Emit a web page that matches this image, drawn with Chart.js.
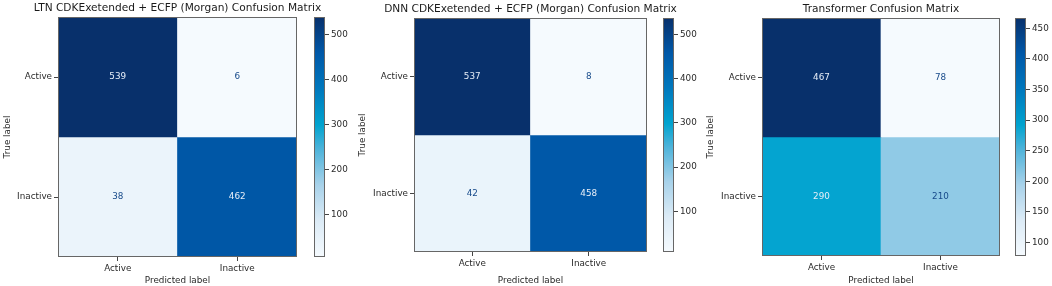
<!DOCTYPE html>
<html>
<head>
<meta charset="utf-8">
<script src="https://cdn.jsdelivr.net/npm/chart.js@4.4.0/dist/chart.umd.min.js"></script>
<style>
body { margin: 0; background: #fff; width: 1052px; height: 286px; position: relative; overflow: hidden; }
canvas { position: absolute; top: 0; }
</style>
</head>
<body>
<canvas id="m1"></canvas><canvas id="c1"></canvas>
<canvas id="m2"></canvas><canvas id="c2"></canvas>
<canvas id="m3"></canvas><canvas id="c3"></canvas>
<script>
// data
const classes = ['Active', 'Inactive'];

const ltnTitle = 'LTN CDKExetended + ECFP (Morgan) Confusion Matrix';
const ltnValues = [[539, 6], [38, 462]];
const ltnTicks = [100, 200, 300, 400, 500];

const dnnTitle = 'DNN CDKExetended + ECFP (Morgan) Confusion Matrix';
const dnnValues = [[537, 8], [42, 458]];
const dnnTicks = [100, 200, 300, 400, 500];

const trfTitle = 'Transformer Confusion Matrix';
const trfValues = [[467, 78], [290, 210]];
const trfTicks = [100, 150, 200, 250, 300, 350, 400, 450];

// Blues-like colormap (as it looks in the picture)
const cmapStops = [
    [0, '#f5fafe'], [0.15, '#dcebf6'], [0.3, '#a8d2ea'], [0.45, '#4db3da'],
    [0.55, '#00a3cf'], [0.7, '#0078bd'], [0.85, '#0058a8'], [1, '#08306b']
];

Chart.defaults.font.family = '"DejaVu Sans", sans-serif';
Chart.defaults.font.size = 8.8;
Chart.defaults.color = '#2a2a2a';

function hexRgb(h) {
    return [1, 3, 5].map(i => parseInt(h.substr(i, 2), 16));
}

function cmap(t) {
    t = Math.max(0, Math.min(1, t));
    for (let i = 1; i < cmapStops.length; i++) {
        if (t <= cmapStops[i][0]) {
            const [t0, c0] = cmapStops[i - 1], [t1, c1] = cmapStops[i];
            const f = (t - t0) / (t1 - t0);
            const a = hexRgb(c0), b = hexRgb(c1);
            return `rgb(${a.map((v, k) => Math.round(v + (b[k] - v) * f)).join(',')})`;
        }
    }
    return cmapStops[cmapStops.length - 1][1];
}

function gradient(chart) {
    const a = chart.chartArea;
    if (!a) return '#6baed6';
    const g = chart.ctx.createLinearGradient(0, a.bottom, 0, a.top);
    cmapStops.forEach(([t, c]) => g.addColorStop(t, c));
    return g;
}

const frame = {
    id: 'frame',
    afterDatasetsDraw(chart) {
        const a = chart.chartArea, ctx = chart.ctx;
        ctx.save();
        ctx.strokeStyle = '#666';
        ctx.lineWidth = 1;
        ctx.strokeRect(Math.round(a.left) + 0.5, Math.round(a.top) + 0.5,
            Math.round(a.right - a.left) - 1, Math.round(a.bottom - a.top) - 1);
        ctx.restore();
    }
};

// centre the title over the plot, like matplotlib does
const titleOverAxes = {
    id: 'titleOverAxes',
    afterLayout(chart) {
        const tb = chart.titleBlock;
        if (tb) {
            const cx = (chart.chartArea.left + chart.chartArea.right) / 2;
            tb.left = cx - 200;
            tb.right = cx + 200;
        }
    }
};

const cellText = {
    id: 'cellText',
    afterDatasetsDraw(chart) {
        const ctx = chart.ctx;
        ctx.save();
        ctx.font = '8.8px "DejaVu Sans"';
        ctx.textAlign = 'center';
        ctx.textBaseline = 'middle';
        chart.data.datasets.forEach((ds, i) => {
            chart.getDatasetMeta(i).data.forEach((bar, j) => {
                ctx.fillStyle = ds.textColors[j];
                ctx.fillText(ds.cellValues[j], bar.x, (bar.y + bar.base) / 2);
            });
        });
        ctx.restore();
    }
};

function place(id, left, width) {
    const el = document.getElementById(id);
    el.width = width;
    el.height = 286;
    el.style.left = left + 'px';
    return el;
}

const axisGrid = { drawOnChartArea: false, tickLength: 4, color: '#444', offset: false };

function matrixChart(id, title, values, box) {
    const flat = values.flat();
    const lo = Math.min(...flat), hi = Math.max(...flat), mid = (lo + hi) / 2;
    const datasets = values.map((row, r) => ({
        data: row.map(() => [r, r + 1]),
        backgroundColor: row.map(v => cmap((v - lo) / (hi - lo))),
        cellValues: row,
        textColors: row.map(v => v > mid ? '#e6eef8' : '#174a8a'),
        borderWidth: 0,
        barPercentage: 1,
        categoryPercentage: 1,
        grouped: false
    }));
    const extra = 40;
    const el = place(id, box.canvasLeft, box.right - box.canvasLeft + extra);
    new Chart(el, {
        type: 'bar',
        data: { labels: classes, datasets },
        options: {
            responsive: false,
            animation: false,
            layout: { padding: { left: box.padL, right: extra, top: 0, bottom: 0 } },
            plugins: {
                legend: { display: false },
                tooltip: { enabled: false },
                title: {
                    display: true, text: title, color: '#1a1a1a',
                    font: { size: 10.6, weight: 'normal' },
                    padding: { top: box.top - 12.7 - 2, bottom: 2 }
                }
            },
            scales: {
                x: {
                    grid: axisGrid,
                    border: { display: false },
                    ticks: { padding: 2, maxRotation: 0 },
                    title: { display: true, text: 'Predicted label', padding: 0 },
                    afterFit: s => { s.height = 286 - box.bottom; }
                },
                y: {
                    min: 0, max: 2, reverse: true,
                    grid: axisGrid,
                    border: { display: false },
                    afterBuildTicks: s => { s.ticks = classes.map((c, i) => ({ value: i + 0.5 })); },
                    ticks: { padding: 2, callback: (v, i) => classes[i] },
                    title: { display: true, text: 'True label', padding: 0 },
                    afterFit: s => { s.width = box.left - box.canvasLeft - box.padL; }
                }
            }
        },
        plugins: [titleOverAxes, cellText, frame]
    });
}

function colorbarChart(id, values, ticks, box) {
    const flat = values.flat();
    const lo = Math.min(...flat), hi = Math.max(...flat);
    const width = 44;
    const el = place(id, box.left - 4, width);
    new Chart(el, {
        type: 'bar',
        data: {
            labels: [''],
            datasets: [{
                data: [[lo, hi]],
                backgroundColor: c => gradient(c.chart),
                borderWidth: 0,
                barPercentage: 1,
                categoryPercentage: 1
            }]
        },
        options: {
            responsive: false,
            animation: false,
            layout: { padding: { left: 4, right: 0, top: box.top, bottom: 286 - box.bottom } },
            plugins: { legend: { display: false }, tooltip: { enabled: false } },
            scales: {
                x: { display: false },
                y: {
                    position: 'right',
                    min: lo, max: hi,
                    grid: axisGrid,
                    border: { display: false },
                    afterBuildTicks: s => { s.ticks = ticks.map(v => ({ value: v })); },
                    ticks: { padding: 2 },
                    afterFit: s => { s.width = width - 4 - (box.right - box.left); }
                }
            }
        },
        plugins: [frame]
    });
}

matrixChart('m1', ltnTitle, ltnValues, { canvasLeft: 0, padL: 2, left: 58, right: 297, top: 17, bottom: 257 });
colorbarChart('c1', ltnValues, ltnTicks, { left: 314, right: 325, top: 17, bottom: 257 });

matrixChart('m2', dnnTitle, dnnValues, { canvasLeft: 356, padL: 1.3, left: 414, right: 647, top: 18, bottom: 252 });
colorbarChart('c2', dnnValues, dnnTicks, { left: 663, right: 674, top: 18, bottom: 252 });

matrixChart('m3', trfTitle, trfValues, { canvasLeft: 704, padL: 1.7, left: 762, right: 1000, top: 18, bottom: 256 });
colorbarChart('c3', trfValues, trfTicks, { left: 1015, right: 1026, top: 18, bottom: 256 });
</script>
</body>
</html>
